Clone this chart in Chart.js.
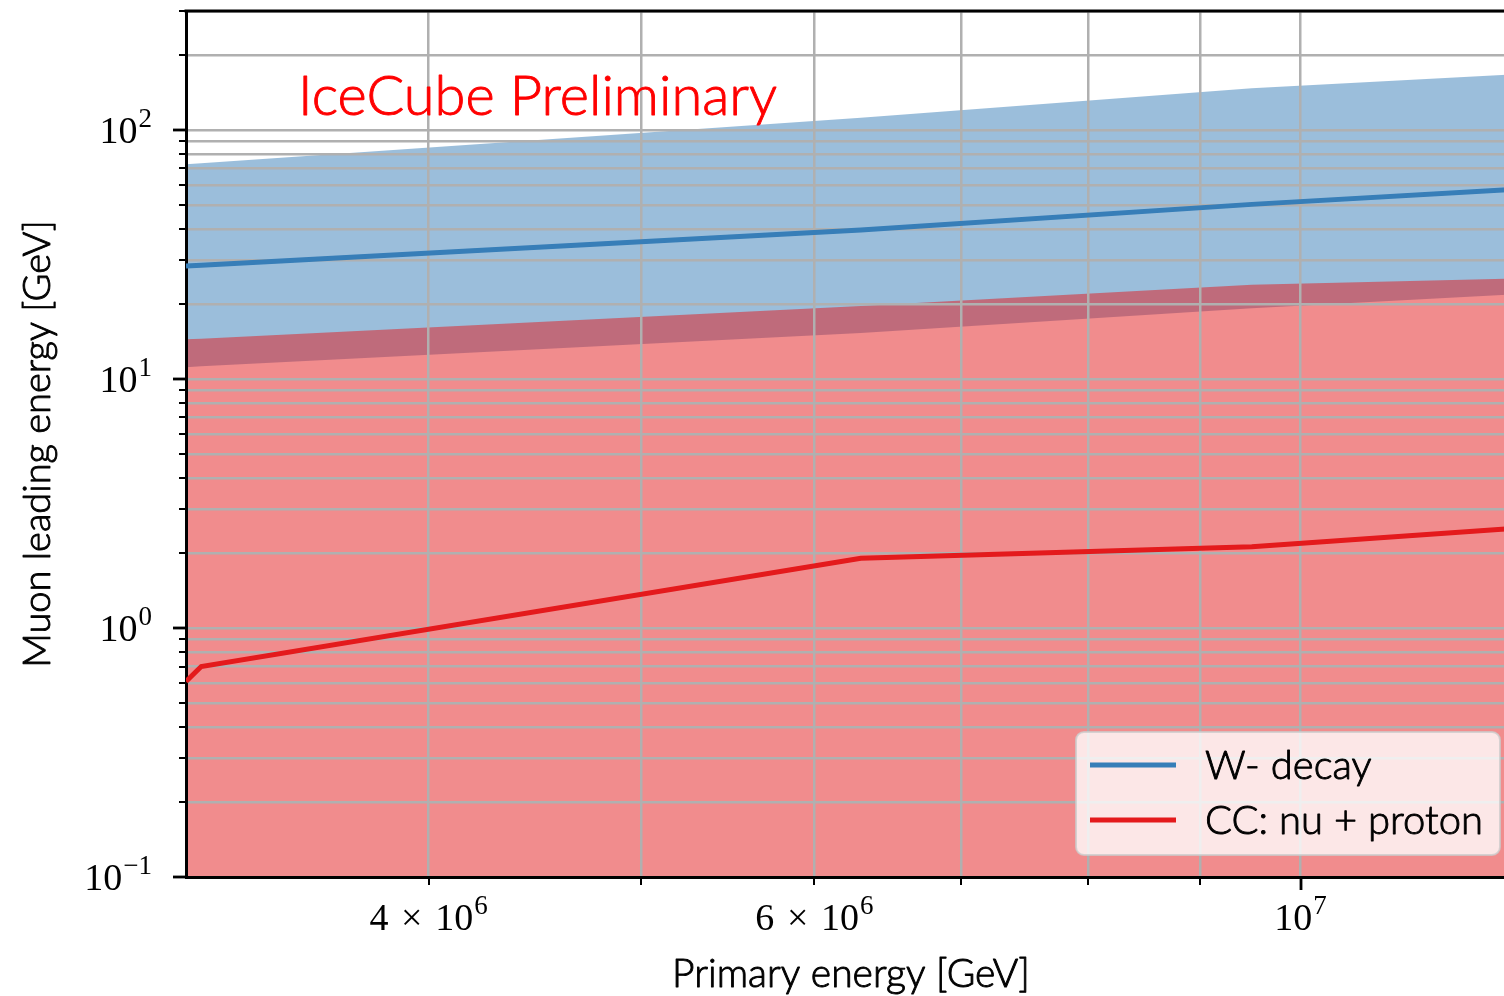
<!DOCTYPE html>
<html>
<head>
<meta charset="utf-8">
<script src="https://cdn.jsdelivr.net/npm/chart.js@4.4.1/dist/chart.umd.min.js"></script>
<style>
  html, body { margin: 0; padding: 0; background: #ffffff; overflow: hidden; }
  canvas { display: block; }
</style>
</head>
<body>
<canvas id="chart" width="1520" height="996"></canvas>
<script>
// Primary neutrino energy sampling points [GeV]
const primaryEnergy = [3.1e6, 3.15e6, 6.3e6, 9.5e6, 1.26e7];

// W- decay: muon leading energy [GeV], central curve and band edges
const wDecayCentral = [28.4, 28.6, 39.6, 50.2, 57.9];
const wDecayUpper   = [72.8, 73.4, 111.7, 146.8, 167.7];
const wDecayLower   = [11.14, 11.23, 15.3, 19.2, 21.9];

// CC: nu + proton: muon leading energy [GeV], central curve and band upper edge
const ccCentral = [0.61, 0.70, 1.905, 2.12, 2.52];
const ccUpper   = [14.43, 14.5, 19.6, 23.9, 25.3];

// Axis ticks
const xTickValues = [4e6, 5e6, 6e6, 7e6, 8e6, 9e6, 1e7];
const xMajorTicks = [1e7];
const yTickValues = [0.1, 0.2, 0.3, 0.4, 0.5, 0.6, 0.7, 0.8, 0.9,
                     1, 2, 3, 4, 5, 6, 7, 8, 9,
                     10, 20, 30, 40, 50, 60, 70, 80, 90,
                     100, 200, 300];
const yMajorTicks = [0.1, 1, 10, 100];
const xTickLabels = [
  { value: 4e6, mantissa: '4\u2004\u00d7\u2004', exponent: '6' },
  { value: 6e6, mantissa: '6\u2004\u00d7\u2004', exponent: '6' },
  { value: 1e7, mantissa: '', exponent: '7' }
];
const yTickLabels = [
  { value: 0.1, exponent: '\u22121' },
  { value: 1,   exponent: '0' },
  { value: 10,  exponent: '1' },
  { value: 100, exponent: '2' }
];

const xTitle = 'Primary energy [GeV]';
const yTitle = 'Muon leading energy [GeV]';
const stampText = 'IceCube Preliminary';
const seriesNames = ['W- decay', 'CC: nu + proton'];

const BLUE = '#377eb8';
const RED = '#e41a1c';
const SANS = 'Lato, "Open Sans", sans-serif';
const SERIF = '"Liberation Serif", "DejaVu Serif", serif';

const points = ys => primaryEnergy.map((x, i) => ({ x: x, y: ys[i] }));
const noLine = 'rgba(0,0,0,0)';

function isIn(list, v) {
  return list.some(m => Math.abs(m - v) / m < 1e-9);
}

// light sans text with a hairline outline for a book-like weight
function sansText(ctx, text, x, y, size, color) {
  ctx.font = '300 ' + size + 'px ' + SANS;
  ctx.fillStyle = color;
  ctx.strokeStyle = color;
  ctx.lineWidth = 0.9;
  ctx.lineJoin = 'round';
  ctx.fillText(text, x, y);
  ctx.strokeText(text, x, y);
}

// "10^n" style label: mantissa + "10" on the baseline, exponent raised
function drawPowerLabel(ctx, mantissa, exponent, x, baseline, align) {
  const baseFont = '38px ' + SERIF;
  const expFont = '27px ' + SERIF;
  ctx.font = baseFont;
  const baseText = mantissa + '10';
  const wb = ctx.measureText(baseText).width;
  ctx.font = expFont;
  const we = ctx.measureText(exponent).width;
  const total = wb + we + 1;
  let start = align === 'right' ? x - total : x - total / 2;
  ctx.textAlign = 'left';
  ctx.textBaseline = 'alphabetic';
  ctx.font = baseFont;
  ctx.fillText(baseText, start, baseline);
  ctx.font = expFont;
  ctx.fillText(exponent, start + wb + 1, baseline - 16);
}

const decorations = {
  id: 'decorations',
  afterDraw(chart) {
    const { ctx, chartArea: a, scales } = chart;
    const xs = scales.x, ys = scales.y;
    ctx.save();
    ctx.fillStyle = '#000';
    ctx.strokeStyle = '#000';

    // top spine
    ctx.lineWidth = 3;
    ctx.beginPath();
    ctx.moveTo(a.left - 1.5, a.top);
    ctx.lineTo(a.right, a.top);
    ctx.stroke();

    // y tick marks
    yTickValues.forEach(v => {
      const major = isIn(yMajorTicks, v);
      const py = Math.round(ys.getPixelForValue(v));
      ctx.lineWidth = major ? 2.8 : 2;
      ctx.beginPath();
      ctx.moveTo(a.left - (major ? 13 : 7), py);
      ctx.lineTo(a.left, py);
      ctx.stroke();
    });
    // x tick marks
    xTickValues.forEach(v => {
      const major = isIn(xMajorTicks, v);
      const px = Math.round(xs.getPixelForValue(v));
      ctx.lineWidth = major ? 2.8 : 2;
      ctx.beginPath();
      ctx.moveTo(px, a.bottom);
      ctx.lineTo(px, a.bottom + (major ? 13 : 8));
      ctx.stroke();
    });

    // tick labels
    yTickLabels.forEach(t => {
      const py = ys.getPixelForValue(t.value);
      drawPowerLabel(ctx, '', t.exponent, a.left - 34, py + 13, 'right');
    });
    xTickLabels.forEach(t => {
      const px = xs.getPixelForValue(t.value);
      drawPowerLabel(ctx, t.mantissa, t.exponent, px, a.bottom + 53, 'center');
    });

    // axis titles
    ctx.textAlign = 'center';
    ctx.textBaseline = 'alphabetic';
    sansText(ctx, xTitle, (a.left + a.right) / 2, a.bottom + 110, 39, '#000');
    ctx.save();
    ctx.translate(50, (a.top + a.bottom) / 2);
    ctx.rotate(-Math.PI / 2);
    sansText(ctx, yTitle, 0, 0, 38, '#000');
    ctx.restore();

    // stamp
    ctx.textAlign = 'left';
    sansText(ctx, stampText, a.left + 112, a.top + 104, 56, '#ff0000');

    // legend
    const lx1 = a.right - 440, lx2 = a.right - 16;
    const ly2 = a.bottom - 22, ly1 = ly2 - 123;
    ctx.beginPath();
    ctx.roundRect(lx1, ly1, lx2 - lx1, ly2 - ly1, 8);
    ctx.fillStyle = 'rgba(255,255,255,0.8)';
    ctx.fill();
    ctx.strokeStyle = 'rgba(204,204,204,0.8)';
    ctx.lineWidth = 2;
    ctx.stroke();
    const ds = chart.data.datasets;
    [0, 1].forEach(i => {
      const yy = ly1 + 33 + i * 55;
      ctx.strokeStyle = ds[i].borderColor;
      ctx.lineWidth = 5;
      ctx.beginPath();
      ctx.moveTo(lx1 + 14, yy);
      ctx.lineTo(lx1 + 100, yy);
      ctx.stroke();
      ctx.textAlign = 'left';
      ctx.textBaseline = 'middle';
      sansText(ctx, ds[i].label, lx1 + 129, yy + 1, 40, '#000');
    });
    ctx.restore();
  }
};

new Chart(document.getElementById('chart'), {
  type: 'line',
  data: {
    datasets: [
      { label: seriesNames[0], data: points(wDecayCentral), borderColor: BLUE, borderWidth: 5,
        pointRadius: 0, fill: false },
      { label: seriesNames[1], data: points(ccCentral), borderColor: RED, borderWidth: 5,
        pointRadius: 0, fill: false },
      { label: 'cc band', data: points(ccUpper), borderColor: noLine, borderWidth: 1,
        pointRadius: 0, backgroundColor: 'rgba(228,26,28,0.5)', fill: 'start' },
      { label: 'w band', data: points(wDecayUpper), borderColor: noLine, borderWidth: 1,
        pointRadius: 0, backgroundColor: 'rgba(55,126,184,0.5)', fill: 4 },
      { label: 'w band lower', data: points(wDecayLower), borderColor: noLine, borderWidth: 1,
        pointRadius: 0, fill: false }
    ]
  },
  options: {
    responsive: false,
    animation: false,
    devicePixelRatio: 1,
    layout: { padding: { top: 11, right: 4, left: 0, bottom: 0 } },
    elements: { line: { tension: 0 } },
    scales: {
      x: {
        type: 'logarithmic', position: 'bottom',
        min: 3.1e6, max: 1.254e7,
        ticks: { display: false },
        grid: { color: '#b0b0b0', lineWidth: 2.5, drawTicks: false },
        border: { color: '#000', width: 3 },
        afterBuildTicks: s => { s.ticks = xTickValues.map(v => ({ value: v })); },
        afterFit: s => { s.height = 119; }
      },
      y: {
        type: 'logarithmic', position: 'left',
        min: 0.1, max: 300,
        ticks: { display: false },
        grid: { color: '#b0b0b0', lineWidth: 2.5, drawTicks: false },
        border: { color: '#000', width: 3 },
        afterBuildTicks: s => { s.ticks = yTickValues.map(v => ({ value: v })); },
        afterFit: s => { s.width = 186; }
      }
    },
    plugins: {
      legend: { display: false },
      tooltip: { enabled: false },
      filler: { drawTime: 'beforeDraw' }
    }
  },
  plugins: [decorations]
});
</script>
</body>
</html>
